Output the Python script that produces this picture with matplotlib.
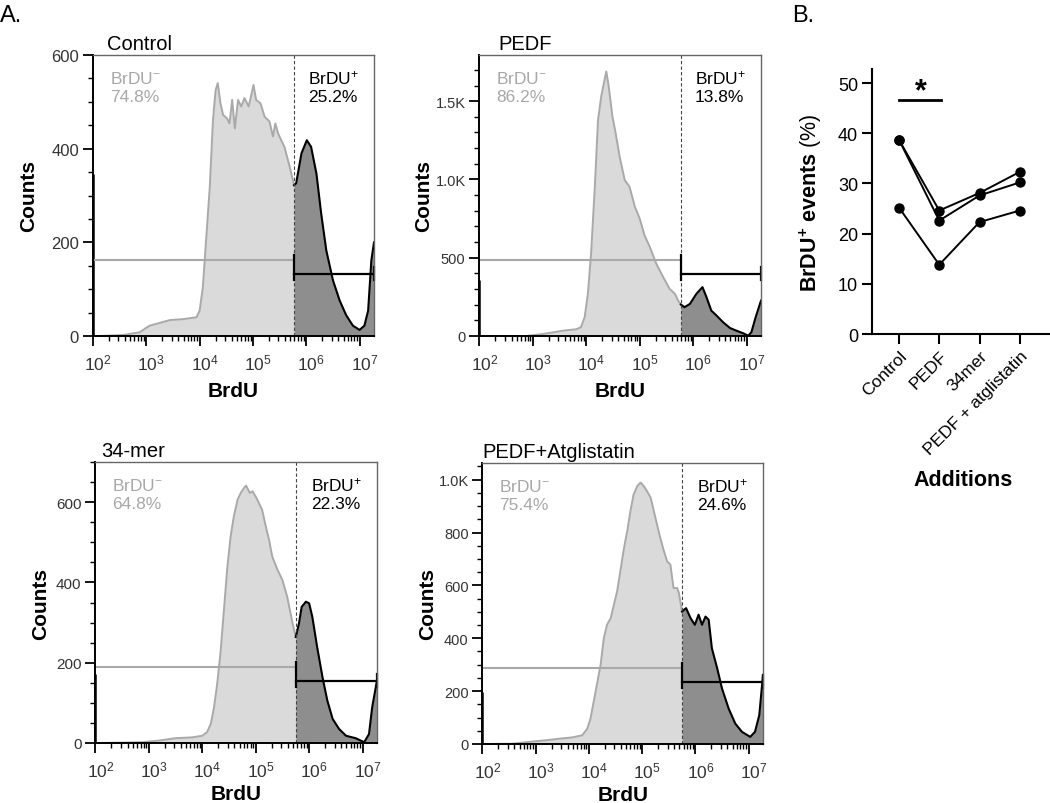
import numpy as np
import matplotlib
matplotlib.use('Agg')
import matplotlib.pyplot as plt
import matplotlib.transforms as mtransforms
from matplotlib.ticker import MultipleLocator, LogLocator, NullFormatter, FuncFormatter

plt.rcParams['font.family'] = ['Liberation Sans', 'DejaVu Sans']
plt.rcParams['mathtext.fontset'] = 'custom'
plt.rcParams['mathtext.rm'] = 'Liberation Sans'
plt.rcParams['mathtext.it'] = 'Liberation Sans:italic'
plt.rcParams['mathtext.bf'] = 'Liberation Sans:bold'

W, H = 1050, 804

# ---- Panel A: BrdU histograms (x given as log10 of BrdU intensity) ----
titles = ['Control', 'PEDF', '34-mer', 'PEDF+Atglistatin']
neg_pct = ['74.8%', '86.2%', '64.8%', '75.4%']
pos_pct = ['25.2%', '13.8%', '22.3%', '24.6%']
gates = [5.77, 5.77, 5.75, 5.75]
spikes = [345, 355, 172, 195]   # events piled at the lowest channel
ymax = [600, 1795, 700, 1063]

ctrl_x = [2.0, 2.1, 2.56, 2.875, 3.06, 3.19, 3.44, 3.69, 3.94, 4.0, 4.06, 4.125, 4.19, 4.25,
          4.3, 4.34, 4.39, 4.44, 4.51, 4.56, 4.61, 4.66, 4.72, 4.78, 4.84, 4.92, 5.01, 5.06,
          5.14, 5.22, 5.31, 5.375, 5.42, 5.47, 5.53, 5.59, 5.69, 5.77, 5.81, 5.91, 6.01, 6.09,
          6.19, 6.28, 6.375, 6.5, 6.625, 6.75, 6.875, 7.0, 7.09, 7.16, 7.22, 7.27]
ctrl_y = [0, 0, 2, 8, 22, 26, 34, 36, 40, 54, 104, 211, 318, 461,
          525, 540, 497, 472, 465, 454, 504, 443, 504, 490, 508, 490, 536, 504,
          497, 468, 458, 426, 454, 433, 418, 404, 361, 322, 326, 390, 418, 404,
          347, 261, 183, 119, 76, 44, 22, 13, 22, 54, 161, 200]

pedf_x = [2.0, 2.1, 2.875, 3.19, 3.375, 3.56, 3.81, 3.9, 3.97, 4.03, 4.09, 4.16, 4.22, 4.28,
          4.33, 4.375, 4.42, 4.49, 4.55, 4.625, 4.72, 4.81, 4.91, 5.0, 5.09, 5.19, 5.31, 5.44,
          5.56, 5.66, 5.72, 5.77, 5.84, 5.94, 6.06, 6.175, 6.25, 6.34, 6.44, 6.56, 6.69, 6.81,
          6.94, 7.03, 7.09, 7.17, 7.27]
pedf_y = [0, 0, 0, 13, 23, 34, 43, 56, 120, 269, 526, 953, 1380, 1530,
          1616, 1690, 1594, 1402, 1295, 1145, 996, 953, 825, 750, 643, 568, 462, 376,
          301, 269, 226, 201, 184, 205, 269, 312, 248, 162, 130, 88, 51, 34,
          17, 2, 24, 120, 226]

mer_x = [2.0, 2.1, 2.875, 3.19, 3.5, 3.81, 4.0, 4.09, 4.16, 4.22, 4.28, 4.34, 4.41, 4.47,
         4.53, 4.59, 4.66, 4.72, 4.78, 4.82, 4.89, 4.94, 5.0, 5.06, 5.12, 5.19, 5.25, 5.31,
         5.41, 5.5, 5.59, 5.69, 5.75, 5.81, 5.86, 5.94, 6.0, 6.06, 6.15, 6.25, 6.34, 6.44,
         6.56, 6.69, 6.87, 7.03, 7.12, 7.18, 7.27]
mer_y = [0, 0, 2, 6, 12, 14, 18, 27, 48, 89, 148, 223, 339, 439,
         514, 564, 606, 623, 635, 641, 623, 627, 614, 598, 581, 539, 506, 464,
         431, 406, 364, 298, 264, 298, 339, 352, 348, 314, 239, 164, 106, 60,
         35, 18, 12, 2, 22, 89, 156]

atgl_x = [2.0, 2.1, 2.56, 2.875, 3.19, 3.44, 3.69, 3.875, 3.97, 4.03, 4.09, 4.16, 4.22, 4.28,
          4.34, 4.41, 4.47, 4.53, 4.59, 4.66, 4.72, 4.78, 4.84, 4.91, 4.97, 5.03, 5.09, 5.16,
          5.22, 5.28, 5.34, 5.41, 5.47, 5.53, 5.59, 5.66, 5.69, 5.75, 5.825, 5.91, 5.99, 6.06,
          6.125, 6.19, 6.25, 6.31, 6.41, 6.5, 6.625, 6.75, 6.875, 7.03, 7.12, 7.2, 7.27]
atgl_y = [0, 0, 1, 8, 14, 20, 25, 33, 58, 96, 160, 235, 299, 400,
          451, 476, 527, 577, 653, 742, 805, 881, 944, 976, 989, 976, 957, 932,
          881, 830, 780, 729, 691, 679, 590, 590, 571, 501, 514, 476, 451, 489,
          451, 482, 470, 362, 286, 210, 134, 77, 46, 27, 46, 109, 261]

curves_x = [ctrl_x, pedf_x, mer_x, atgl_x]
curves_y = [ctrl_y, pedf_y, mer_y, atgl_y]

# ---- Panel B: BrDU+ events per experiment ----
additions = ['Control', 'PEDF', '34mer', 'PEDF + atglistatin']
exp1 = [38.7, 24.6, 28.1, 32.3]
exp2 = [38.7, 22.6, 27.6, 30.2]
exp3 = [25.2, 13.8, 22.3, 24.6]

# layout in pixels (left, top, right, bottom)
panel_px = [(93, 56, 374, 337), (479.4, 56, 761, 337),
            (95.4, 463, 377, 744), (482.4, 464, 763, 745)]
title_x = [0.05, 0.067, 0.022, 0.0]
ylab_x = [-0.196, -0.163, -0.16, -0.163]
xlab_y = [-0.16, -0.16, -0.145, -0.145]
ylab_size = [12, 10.5, 11, 10.5]
y_major = [200, 500, 200, 200]
y_minor = [50, 100, 50, 50]

light = '#dadada'
light_edge = '#a9a9a9'
dark = '#8e8e8e'
neg_col = '#a8a8a8'

fig = plt.figure(figsize=(W/100, H/100), dpi=100)
shift = mtransforms.ScaledTranslation(5/100, 0, fig.dpi_scale_trans)

def kfmt(v, pos):
   if v >= 1000:
      return f'{v/1000:.1f}K'
   return f'{int(v)}'

for i in range(4):
   l, t, r, b = panel_px[i]
   ax = fig.add_axes([l/W, 1-b/H, (r-l)/W, (b-t)/H])
   x = 10**np.array(curves_x[i])
   y = np.array(curves_y[i])
   g = 10**gates[i]
   left = x <= g
   right = x >= g
   ax.fill_between(x[left], y[left], color=light, lw=0)
   ax.plot(x[left], y[left], color=light_edge, lw=1.4)
   ax.fill_between(x[right], y[right], color=dark, lw=0)
   ax.plot(x[right], y[right], color='black', lw=1.5)
   ax.vlines(x[0], 0, spikes[i], color='black', lw=1.8, clip_on=False)
   ax.axvline(g, color='#444444', lw=0.8, ls=(0, (3, 2)))

   ax.set_xscale('log')
   ax.set_xlim(x[0], x[-1])
   ax.set_ylim(0, ymax[i])

   # gate markers
   trans = mtransforms.blended_transform_factory(ax.transData, ax.transAxes)
   ax.plot([x[0], g], [0.27, 0.27], color=light_edge, lw=1.5, transform=trans)
   ax.plot([g, x[-1]], [0.22, 0.22], color='black', lw=1.6, transform=trans)
   ax.plot([g, g], [0.20, 0.29], color='black', lw=1.6, transform=trans)
   ax.plot([x[-1], x[-1]], [0.20, 0.245], color='black', lw=1.6, transform=trans, clip_on=False)

   ax.text(0.06, 0.90, 'BrDU$^{-}$', transform=ax.transAxes, color=neg_col, fontsize=12.5)
   ax.text(0.06, 0.835, neg_pct[i], transform=ax.transAxes, color=neg_col, fontsize=12.5)
   ax.text(0.765, 0.90, 'BrDU$^{+}$', transform=ax.transAxes, color='black', fontsize=12.5)
   ax.text(0.765, 0.835, pos_pct[i], transform=ax.transAxes, color='black', fontsize=12.5)
   ax.text(title_x[i], 1.021, titles[i], transform=ax.transAxes, fontsize=14.5, va='baseline')

   ax.xaxis.set_major_locator(LogLocator(base=10, numticks=10))
   ax.xaxis.set_minor_locator(LogLocator(base=10, subs=np.arange(2, 10), numticks=20))
   ax.xaxis.set_minor_formatter(NullFormatter())
   ax.yaxis.set_major_locator(MultipleLocator(y_major[i]))
   ax.yaxis.set_minor_locator(MultipleLocator(y_minor[i]))
   ax.yaxis.set_major_formatter(FuncFormatter(kfmt))
   ax.tick_params(which='major', length=7, width=1.3, labelcolor='#333333', pad=3)
   ax.tick_params(axis='y', labelsize=ylab_size[i])
   ax.tick_params(axis='x', labelsize=12.5, pad=5)
   ax.tick_params(which='minor', length=3.5, width=1.0)
   for lab in ax.get_xticklabels():
      lab.set_transform(lab.get_transform() + shift)
   for s in ['top', 'right']:
      ax.spines[s].set_color('#666666')
      ax.spines[s].set_linewidth(1.0)
   for s in ['left', 'bottom']:
      ax.spines[s].set_linewidth(1.4)

   ax.set_ylabel('Counts', fontsize=15, fontweight='bold')
   ax.yaxis.set_label_coords(ylab_x[i], 0.5)
   ax.set_xlabel('BrdU', fontsize=15, fontweight='bold')
   ax.xaxis.set_label_coords(0.5, xlab_y[i])

# ---- Panel B ----
axb = fig.add_axes([872/W, 1-335/H, 178/W, 265/H])
pos = np.arange(len(additions))
for vals in [exp1, exp2, exp3]:
   axb.plot(pos, vals, '-o', color='black', lw=1.4, ms=6.5, clip_on=False)
axb.set_xlim(-0.67, 3.75)
axb.set_ylim(0, 52.8)
axb.set_yticks(np.arange(0, 51, 10))
axb.set_xticks(pos)
axb.set_xticklabels(additions, rotation=45, ha='right', va='top', rotation_mode='anchor')
axb.tick_params(length=7, width=1.5, pad=3)
axb.tick_params(axis='y', labelsize=13)
axb.tick_params(axis='x', labelsize=12.5)
for s in ['top', 'right']:
   axb.spines[s].set_visible(False)
for s in ['left', 'bottom']:
   axb.spines[s].set_linewidth(1.5)
axb.set_ylabel(r'$\mathbf{BrDU^{+}}$ $\mathbf{events}$ (%)', fontsize=15.5)
axb.yaxis.set_label_coords(-0.27, 0.5)
axb.plot([0, 1.05], [46.7, 46.7], color='black', lw=2)
axb.text(0.53, 46.7, '*', fontsize=22, fontweight='bold', ha='center', va='baseline')
fig.text(963/W, 1-481/H, 'Additions', fontsize=15.5, fontweight='bold', ha='center', va='center')

fig.text(0.0, 1-22/H, 'A.', fontsize=17, va='baseline')
fig.text(792/W, 1-22/H, 'B.', fontsize=17, va='baseline')

fig.savefig('out.png', dpi=100)
